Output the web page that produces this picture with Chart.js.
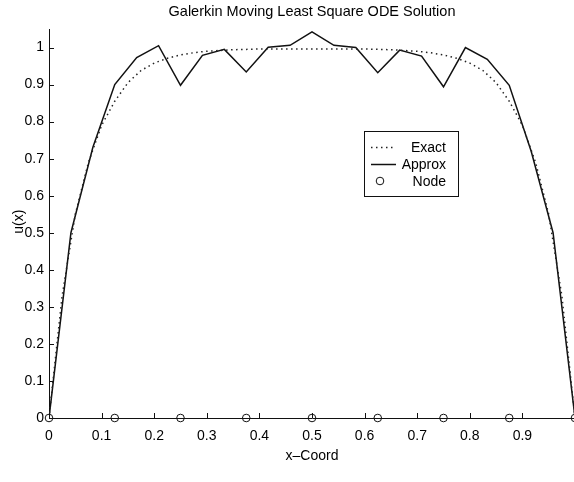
<!DOCTYPE html>
<html>
<head>
<meta charset="utf-8">
<script src="https://cdn.jsdelivr.net/npm/chart.js@4.4.0/dist/chart.umd.min.js"></script>
<style>
  html, body { margin: 0; padding: 0; background: #fff; overflow: hidden; }
  /* canvas a touch wider than the window: the scanned figure is cut at x = 1 */
  #wrap { width: 574px; height: 482px; overflow: hidden; }
</style>
</head>
<body>
<div id="wrap"><canvas id="odeChart" width="580" height="482"></canvas></div>
<script>
// Galerkin MLS ODE solution — exact vs approx, nodes on the axis

// exact solution (dotted)
const exactX = [0, 0.025, 0.05, 0.075, 0.1, 0.125, 0.15, 0.175, 0.2, 0.225, 0.25, 0.275, 0.3, 0.325, 0.35, 0.375, 0.4, 0.425, 0.45, 0.475, 0.5,
                0.525, 0.55, 0.575, 0.6, 0.625, 0.65, 0.675, 0.7, 0.725, 0.75, 0.775, 0.8, 0.825, 0.85, 0.875, 0.9, 0.925, 0.95, 0.975, 1];
const exactU = [0, 0.33, 0.55, 0.69, 0.79, 0.855, 0.905, 0.938, 0.958, 0.971, 0.98, 0.986, 0.99, 0.992, 0.994, 0.995, 0.996, 0.996, 0.996, 0.996, 0.996,
                0.996, 0.996, 0.996, 0.996, 0.995, 0.994, 0.992, 0.99, 0.986, 0.98, 0.971, 0.958, 0.938, 0.905, 0.855, 0.79, 0.69, 0.55, 0.33, 0];

// approximate solution (solid), vertices every 1/24
const approxX = [0, 0.0417, 0.0833, 0.125, 0.1667, 0.2083, 0.25, 0.2917, 0.3333, 0.375, 0.4167, 0.4583, 0.5,
                 0.5417, 0.5833, 0.625, 0.6667, 0.7083, 0.75, 0.7917, 0.8333, 0.875, 0.9167, 0.9583, 1];
const approxU = [0, 0.50, 0.73, 0.90, 0.973, 1.005, 0.898, 0.979, 0.995, 0.934, 1.001, 1.006, 1.042,
                 1.006, 1.0, 0.932, 0.993, 0.977, 0.894, 1.0, 0.968, 0.898, 0.72, 0.50, 0];

// nodes
const nodeX = [0, 0.125, 0.25, 0.375, 0.5, 0.625, 0.75, 0.875, 1];
const nodeU = [0, 0, 0, 0, 0, 0, 0, 0, 0];

const TITLE = 'Galerkin Moving Least Square ODE Solution';
const YLABEL = 'u(x)';
const FONT = "'Liberation Sans', Arial, Helvetica, sans-serif";
const INK = '#111';

const toPts = (xs, ys) => xs.map((x, i) => ({ x, y: ys[i] }));

// title centred over the plot box, not the canvas
const plotTitle = {
    id: 'plotTitle',
    afterDraw(chart) {
        const { ctx, chartArea } = chart;
        ctx.save();
        ctx.font = '14.5px ' + FONT;
        ctx.fillStyle = '#000';
        ctx.textAlign = 'center';
        ctx.textBaseline = 'middle';
        ctx.fillText(TITLE, (chartArea.left + chartArea.right) / 2, 12);
        ctx.restore();
    }
};

// ticks pointing into the plot, matlab style
const inwardTicks = {
    id: 'inwardTicks',
    afterDatasetsDraw(chart) {
        const { ctx, chartArea, scales } = chart;
        ctx.save();
        ctx.strokeStyle = INK;
        ctx.lineWidth = 1;
        ctx.beginPath();
        scales.x.ticks.forEach(t => {
            const px = Math.round(scales.x.getPixelForValue(t.value)) + 0.5;
            ctx.moveTo(px, chartArea.bottom);
            ctx.lineTo(px, chartArea.bottom - 5);
        });
        scales.y.ticks.forEach(t => {
            const py = Math.round(scales.y.getPixelForValue(t.value)) + 0.5;
            ctx.moveTo(chartArea.left, py);
            ctx.lineTo(chartArea.left + 5, py);
        });
        ctx.stroke();
        ctx.restore();
    }
};

// boxed legend inside the plot
const boxLegend = {
    id: 'boxLegend',
    afterDraw(chart) {
        const { ctx } = chart;
        const box = { l: 364.5, t: 131.5, r: 458.5, b: 196.5 };
        const rows = [147, 164, 181];
        ctx.save();
        ctx.fillStyle = '#fff';
        ctx.fillRect(box.l, box.t, box.r - box.l, box.b - box.t);
        ctx.strokeStyle = INK;
        ctx.lineWidth = 1;
        ctx.strokeRect(box.l, box.t, box.r - box.l, box.b - box.t);
        ctx.font = '14px ' + FONT;
        ctx.textAlign = 'right';
        ctx.textBaseline = 'middle';
        chart.data.datasets.forEach((ds, i) => {
            const y = rows[i];
            ctx.strokeStyle = ds.borderColor;
            ctx.lineWidth = ds.borderWidth;
            if (ds.showLine) {
                ctx.setLineDash(ds.borderDash || []);
                ctx.beginPath();
                ctx.moveTo(371, y + 0.5);
                ctx.lineTo(396, y + 0.5);
                ctx.stroke();
                ctx.setLineDash([]);
            } else {
                ctx.beginPath();
                ctx.arc(380, y, ds.pointRadius, 0, Math.PI * 2);
                ctx.stroke();
            }
            ctx.fillStyle = '#000';
            ctx.fillText(ds.label, 446, y + 1);
        });
        ctx.restore();
    }
};

// rotated y label, drawn by hand so it sits where matlab put it
const yLabel = {
    id: 'yLabel',
    afterDraw(chart) {
        const { ctx, scales } = chart;
        ctx.save();
        ctx.translate(19, scales.y.getPixelForValue(0.53));
        ctx.rotate(-Math.PI / 2);
        ctx.font = '14px ' + FONT;
        ctx.fillStyle = '#000';
        ctx.textAlign = 'center';
        ctx.textBaseline = 'middle';
        ctx.fillText(YLABEL, 0, 0);
        ctx.restore();
    }
};

new Chart(document.getElementById('odeChart'), {
    type: 'scatter',
    data: {
        datasets: [
            {
                label: 'Exact',
                data: toPts(exactX, exactU),
                showLine: true,
                borderColor: '#222',
                borderWidth: 1.5,
                borderDash: [1.5, 3.5],
                pointRadius: 0,
                tension: 0,
            },
            {
                label: 'Approx',
                data: toPts(approxX, approxU),
                showLine: true,
                borderColor: INK,
                borderWidth: 1.5,
                pointRadius: 0,
                tension: 0,
            },
            {
                label: 'Node',
                data: toPts(nodeX, nodeU),
                showLine: false,
                borderColor: INK,
                backgroundColor: 'rgba(0,0,0,0)',
                borderWidth: 1,
                pointRadius: 3.8,
                clip: false,
            }
        ]
    },
    options: {
        responsive: false,
        animation: false,
        layout: { padding: { left: 0, right: 0, top: 29, bottom: 0 } },
        plugins: {
            legend: { display: false },
            tooltip: { enabled: false },
            title: { display: false }
        },
        scales: {
            x: {
                type: 'linear',
                min: 0,
                max: 1,
                afterFit: s => { s.height = 64; s.paddingRight = 0; s.paddingLeft = 0; },
                grid: { display: false, drawTicks: false },
                border: { display: true, color: INK, width: 1 },
                ticks: {
                    stepSize: 0.1,
                    includeBounds: false,
                    padding: 10,
                    color: '#000',
                    font: { family: FONT, size: 14 },
                    callback: v => (v >= 0.999 ? '' : +v.toFixed(1))
                },
                title: {
                    display: true,
                    text: 'x\u2013Coord',
                    color: '#000',
                    font: { family: FONT, size: 14 },
                    padding: { top: 0, bottom: 17 }
                }
            },
            y: {
                type: 'linear',
                min: 0,
                max: 1.05,
                afterFit: s => { s.width = 49; s.paddingTop = 0; },
                grid: { display: false, drawTicks: false },
                border: { display: true, color: INK, width: 1 },
                ticks: {
                    stepSize: 0.1,
                    includeBounds: false,
                    padding: 5,
                    color: '#000',
                    font: { family: FONT, size: 14 },
                    callback: v => +v.toFixed(1)
                },
                title: { display: false }
            }
        }
    },
    plugins: [plotTitle, inwardTicks, boxLegend, yLabel]
});
</script>
</body>
</html>
